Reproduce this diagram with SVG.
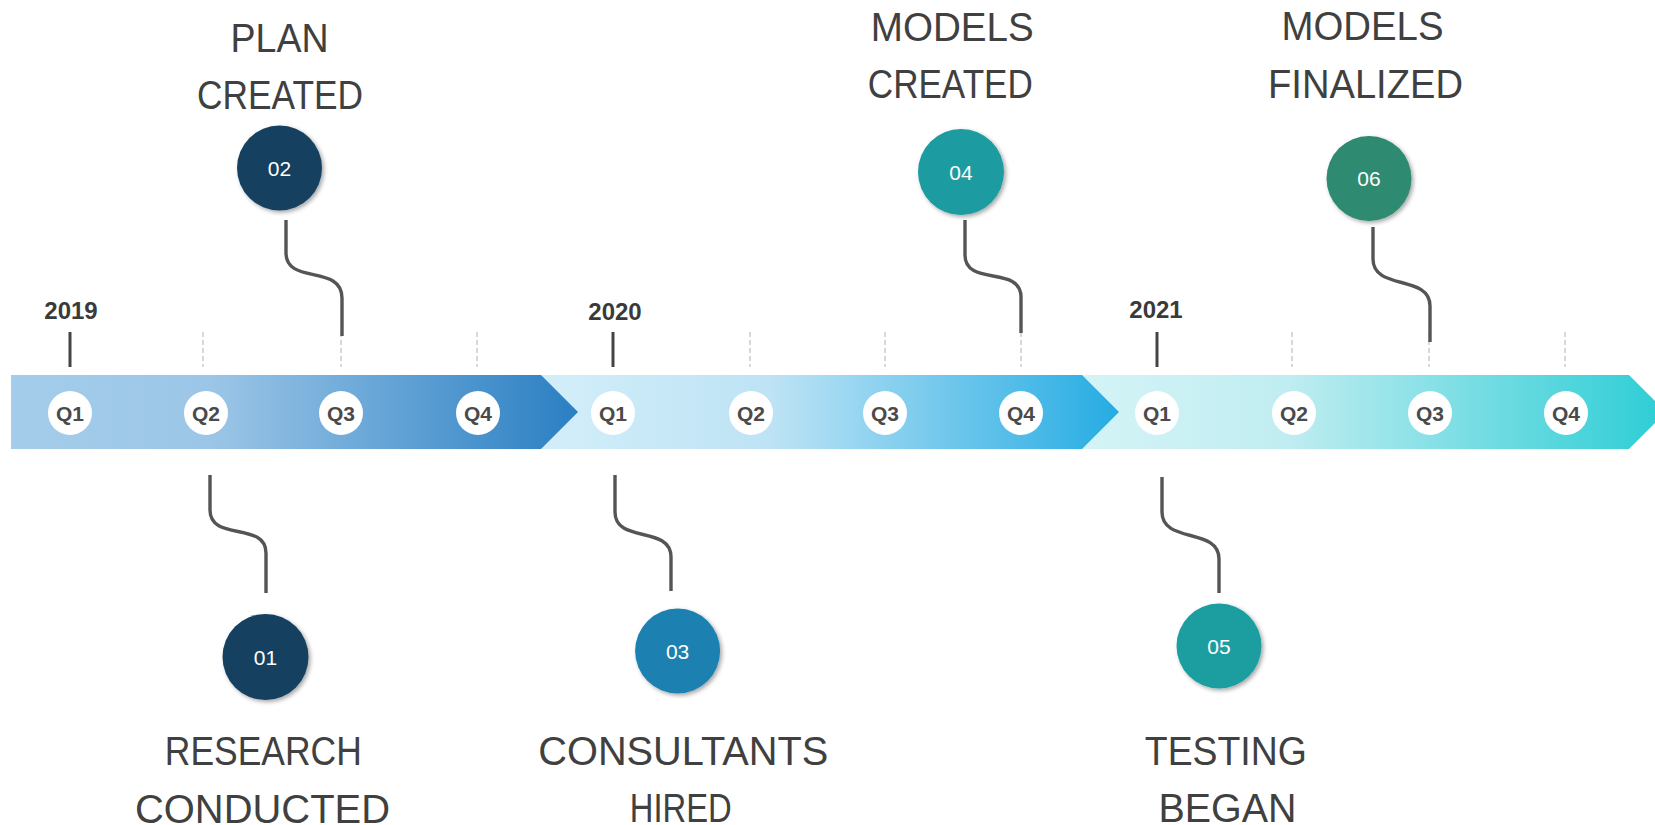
<svg xmlns="http://www.w3.org/2000/svg" width="1655" height="825" viewBox="0 0 1655 825">
<defs>
<linearGradient id="g1" x1="0" y1="0" x2="1" y2="0">
<stop offset="0" stop-color="#a4cdeb"/><stop offset="0.35" stop-color="#9cc6e7"/><stop offset="1" stop-color="#2a7fc3"/>
</linearGradient>
<linearGradient id="g2" x1="0" y1="0" x2="1" y2="0">
<stop offset="0" stop-color="#d3eef9"/><stop offset="0.4" stop-color="#bde3f5"/><stop offset="1" stop-color="#25ace3"/>
</linearGradient>
<linearGradient id="g3" x1="0" y1="0" x2="1" y2="0">
<stop offset="0" stop-color="#d4f4f7"/><stop offset="0.35" stop-color="#c0edf1"/><stop offset="1" stop-color="#2ccdd5"/>
</linearGradient>
<filter id="sh" x="-30%" y="-30%" width="160%" height="160%">
<feDropShadow dx="2" dy="2" stdDeviation="2" flood-color="#000" flood-opacity="0.35"/>
</filter>
</defs>
<style>
.q{fill:#fff}
.qt{font-family:"Liberation Sans",Arial,sans-serif;font-weight:bold;font-size:21px;fill:#4a4a4a;text-anchor:middle}
.yr{font-family:"Liberation Sans",Arial,sans-serif;font-weight:bold;font-size:24px;fill:#3a3a3a;text-anchor:middle}
.ytick{stroke:#444;stroke-width:3}
.dtick{stroke:#cfcfcf;stroke-width:1.6;stroke-dasharray:5 3}
.conn{fill:none;stroke:#555;stroke-width:3.4}
.lbl{font-family:"Liberation Sans",Arial,sans-serif;font-size:41px;fill:#404040;text-anchor:middle}
.num{font-family:"Liberation Sans",Arial,sans-serif;font-size:21px;fill:#fff;text-anchor:middle}
</style>
<g id="timeline">
<polygon points="1082,375 1629,375 1666,412 1629,449 1082,449" fill="url(#g3)"/>
<polygon points="541,375 1082,375 1119,412 1082,449 541,449" fill="url(#g2)"/>
<polygon points="11,375 541,375 578,412 541,449 11,449" fill="url(#g1)"/>
<g id="quarters">
<circle class="q" cx="70" cy="413" r="22"/><text class="qt" x="70" y="420.5">Q1</text>
<circle class="q" cx="206" cy="413" r="22"/><text class="qt" x="206" y="420.5">Q2</text>
<circle class="q" cx="341" cy="413" r="22"/><text class="qt" x="341" y="420.5">Q3</text>
<circle class="q" cx="478" cy="413" r="22"/><text class="qt" x="478" y="420.5">Q4</text>
<circle class="q" cx="613" cy="413" r="22"/><text class="qt" x="613" y="420.5">Q1</text>
<circle class="q" cx="751" cy="413" r="22"/><text class="qt" x="751" y="420.5">Q2</text>
<circle class="q" cx="885" cy="413" r="22"/><text class="qt" x="885" y="420.5">Q3</text>
<circle class="q" cx="1021" cy="413" r="22"/><text class="qt" x="1021" y="420.5">Q4</text>
<circle class="q" cx="1157" cy="413" r="22"/><text class="qt" x="1157" y="420.5">Q1</text>
<circle class="q" cx="1294" cy="413" r="22"/><text class="qt" x="1294" y="420.5">Q2</text>
<circle class="q" cx="1430" cy="413" r="22"/><text class="qt" x="1430" y="420.5">Q3</text>
<circle class="q" cx="1566" cy="413" r="22"/><text class="qt" x="1566" y="420.5">Q4</text>
</g>
<g id="years">
<text class="yr" x="71" y="319">2019</text>
<text class="yr" x="615" y="320">2020</text>
<text class="yr" x="1156" y="318">2021</text>
<line class="ytick" x1="70" y1="332" x2="70" y2="367"/>
<line class="ytick" x1="613" y1="332" x2="613" y2="367"/>
<line class="ytick" x1="1157" y1="332" x2="1157" y2="367"/>
<line class="dtick" x1="203" y1="332" x2="203" y2="367"/>
<line class="dtick" x1="341" y1="332" x2="341" y2="367"/>
<line class="dtick" x1="477" y1="332" x2="477" y2="367"/>
<line class="dtick" x1="750" y1="332" x2="750" y2="367"/>
<line class="dtick" x1="885" y1="332" x2="885" y2="367"/>
<line class="dtick" x1="1021" y1="332" x2="1021" y2="367"/>
<line class="dtick" x1="1292" y1="332" x2="1292" y2="367"/>
<line class="dtick" x1="1429" y1="332" x2="1429" y2="367"/>
<line class="dtick" x1="1565" y1="332" x2="1565" y2="367"/>
</g>
</g>
<g id="connectors">
<path class="conn" d="M286,220 V253 C286,285 342,264 342,298 V336"/>
<path class="conn" d="M210,475 V510 C210,542 266,521 266,553 V593"/>
<path class="conn" d="M615,475 V512 C615,544 671,525 671,557 V591"/>
<path class="conn" d="M965,220 V255 C965,287 1021,265 1021,297 V333"/>
<path class="conn" d="M1162,477 V512 C1162,544 1219,527 1219,559 V593"/>
<path class="conn" d="M1373,227 V259 C1373,291 1430,274 1430,306 V342"/>
</g>
<g id="node01">
<circle cx="265.5" cy="657" r="43" fill="#15405f" filter="url(#sh)"/>
<text class="num" x="265.5" y="664.5">01</text>
<text class="lbl" x="263.3" y="765" textLength="197" lengthAdjust="spacingAndGlyphs">RESEARCH</text>
<text class="lbl" x="262.5" y="822.5" textLength="255" lengthAdjust="spacingAndGlyphs">CONDUCTED</text>
</g>
<g id="node02">
<circle cx="279.5" cy="168" r="42.5" fill="#15405f" filter="url(#sh)"/>
<text class="num" x="279.5" y="175.5">02</text>
<text class="lbl" x="279.5" y="52.3" textLength="98" lengthAdjust="spacingAndGlyphs">PLAN</text>
<text class="lbl" x="280" y="109.3" textLength="166" lengthAdjust="spacingAndGlyphs">CREATED</text>
</g>
<g id="node03">
<circle cx="677.6" cy="651" r="42.5" fill="#1a80b0" filter="url(#sh)"/>
<text class="num" x="677.6" y="658.5">03</text>
<text class="lbl" x="683.3" y="765" textLength="290" lengthAdjust="spacingAndGlyphs">CONSULTANTS</text>
<text class="lbl" x="680.8" y="821.7" textLength="102" lengthAdjust="spacingAndGlyphs">HIRED</text>
</g>
<g id="node04">
<circle cx="961" cy="172" r="43" fill="#1e9ca1" filter="url(#sh)"/>
<text class="num" x="961" y="179.5">04</text>
<text class="lbl" x="952.3" y="40.7" textLength="163" lengthAdjust="spacingAndGlyphs">MODELS</text>
<text class="lbl" x="950.3" y="98.3" textLength="165" lengthAdjust="spacingAndGlyphs">CREATED</text>
</g>
<g id="node05">
<circle cx="1219" cy="646" r="42.5" fill="#1f9ea0" filter="url(#sh)"/>
<text class="num" x="1219" y="653.5">05</text>
<text class="lbl" x="1225.8" y="765" textLength="162" lengthAdjust="spacingAndGlyphs">TESTING</text>
<text class="lbl" x="1227.5" y="822" textLength="138" lengthAdjust="spacingAndGlyphs">BEGAN</text>
</g>
<g id="node06">
<circle cx="1369" cy="178.4" r="42.5" fill="#2e8a6f" filter="url(#sh)"/>
<text class="num" x="1369" y="185.9">06</text>
<text class="lbl" x="1362.5" y="40" textLength="162" lengthAdjust="spacingAndGlyphs">MODELS</text>
<text class="lbl" x="1365.5" y="98.3" textLength="195" lengthAdjust="spacingAndGlyphs">FINALIZED</text>
</g>
</svg>
